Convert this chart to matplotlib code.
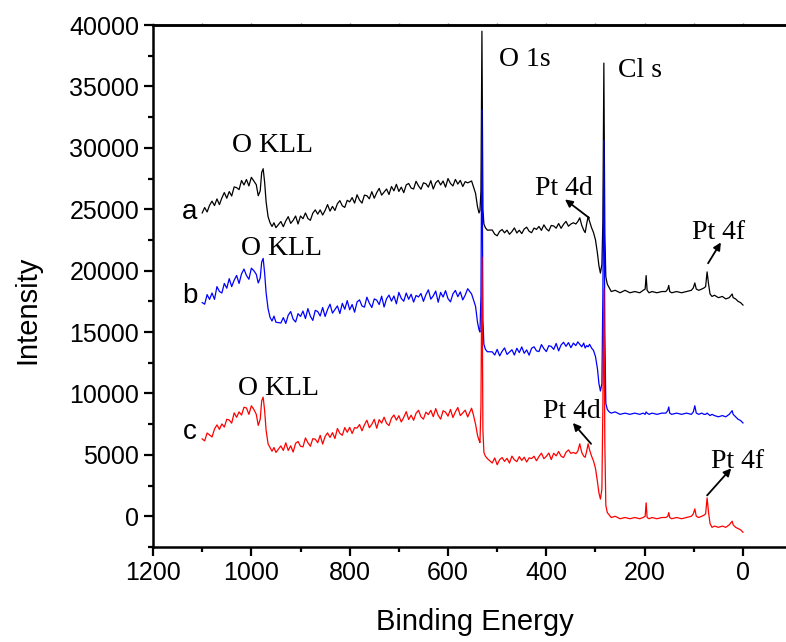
import matplotlib
matplotlib.use("Agg")
import matplotlib.pyplot as plt
from matplotlib.ticker import MultipleLocator

# --- XPS survey spectra: binding energy (eV) and counts for samples a, b, c ---

energy = [
    # 1100 - 1010
    1100, 1095, 1090, 1085, 1080, 1075, 1070, 1065, 1060, 1055,
    1050, 1045, 1040, 1035, 1030, 1025, 1020, 1015, 1010,
    # O KLL
    1005, 1000, 995, 990, 986, 982, 979, 976, 973, 970, 966, 962, 958, 954, 950,
    # 940 - 560
    940, 935, 930, 925, 920, 915, 910, 905, 900, 895,
    890, 885, 880, 875, 870, 865, 860, 855, 850, 845,
    840, 835, 830, 825, 820, 815, 810, 805, 800, 795,
    790, 785, 780, 775, 770, 765, 760, 755, 750, 745,
    740, 735, 730, 725, 720, 715, 710, 705, 700, 695,
    690, 685, 680, 675, 670, 665, 660, 655, 650, 645,
    640, 635, 630, 625, 620, 615, 610, 605, 600, 595,
    590, 585, 580, 575, 570, 565, 560,
    # O 1s
    552, 548, 544, 540, 537, 535, 533, 531, 529, 527, 524, 520,
    # 510 - 350
    510, 505, 500, 495, 490, 485, 480, 475, 470, 465,
    460, 455, 450, 445, 440, 435, 430, 425, 420, 415,
    410, 405, 400, 395, 390, 385, 380, 375, 370, 365,
    360, 355, 350,
    # Pt 4d, Cl s
    345, 340, 336, 332, 328, 324, 321, 318, 315, 312, 308, 304, 300, 296, 293, 290,
    287, 285, 283, 281, 279, 276, 272,
    # 268 - 0, Pt 4f
    268, 260, 250, 240, 230, 220, 210, 203, 199, 197, 195, 191, 185,
    175, 165, 157, 153, 151, 149, 145, 135, 125, 115, 105, 101, 98, 95, 90,
    84, 79, 76, 73, 70, 67, 63, 58, 50, 42, 35, 28, 24, 22, 20, 15, 10, 5, 0,
]

counts_a = [
    24700, 25140, 24780, 25320, 25660, 25300, 25840, 25380, 25920, 26360,
    25900, 26440, 26080, 26820, 26760, 26600, 27340, 26980, 27420,
    26900, 27600, 27300, 27000, 26100, 26500, 28000, 28300, 27200, 25600, 24400, 23900, 23600, 23900, 23500,
    24000, 23580, 24050, 24400, 23850, 24100, 24450, 23800, 24450, 24230,
    24700, 24250, 24100, 24680, 24950, 24600, 24950, 24530, 24900, 25380,
    24850, 25230, 24900, 25450, 25700, 25280, 25150, 25730, 25600, 25950,
    25500, 26180, 25750, 25500, 26150, 26100, 25850, 26430, 25900, 26350,
    26700, 26150, 26400, 26650, 26200, 26850, 26500, 27030, 26450, 26800,
    26350, 26980, 27100, 26730, 26650, 27280, 26900, 26630, 27150, 27080,
    26800, 27330, 26650, 27150, 27350, 26980, 27300, 26800, 27500, 27100,
    26900, 27430, 27050, 27350, 26850, 27250, 27150,
    27300, 26800, 26300, 25200, 24700, 24900, 26500, 39500, 25000, 23800, 23500, 23300,
    23310, 22970, 22840, 23200, 23350, 23080, 23300, 22960, 23180, 23480,
    23070, 23290, 23020, 23390, 23540, 23210, 23090, 23470, 23360, 23600,
    23280, 23730, 23410, 23230, 23680, 23640, 23460, 23840, 23450, 23770,
    24010, 23620, 23800,
    23900, 23800, 24000, 24300, 23700, 23300, 23100, 23800, 24400, 24000, 23500, 23100, 22500, 21400, 20400, 19800,
    20500, 24000, 36900, 23000, 19500, 18900, 18600,
    18300, 18400, 18200, 18400, 18200, 18300, 18200, 18400, 18500, 19600, 18400, 18200, 18300,
    18200, 18300, 18300, 18500, 18800, 18300, 18200, 18300, 18200, 18300, 18400, 18600, 19000, 18500, 18400,
    18500, 18600, 18700, 19900, 18900, 18100, 17900, 18000, 17800, 17900, 17700, 17800, 18000, 18100, 17800, 17700, 17500, 17400, 17200,
]

counts_b = [
    17400, 17270, 18050, 17660, 18180, 17660, 18700, 18310, 18180, 18960,
    18570, 19350, 18700, 19220, 19610, 18960, 19740, 20130, 19610,
    19300, 20200, 20000, 19700, 19000, 19400, 20700, 21000, 19800, 18200, 16900, 16200, 15900, 16300, 15800,
    15740, 16180, 15700, 16380, 16670, 16050, 15820, 16500, 16270, 16710,
    16100, 16910, 16290, 15950, 16770, 16670, 16310, 17000, 16270, 16840,
    17270, 16540, 16840, 17130, 16510, 17340, 16860, 17560, 16820, 17240,
    16620, 17450, 17620, 17130, 17030, 17840, 17350, 17000, 17700, 17600,
    17240, 17920, 17040, 17720, 18010, 17520, 17940, 17300, 18230, 17740,
    17510, 18180, 17670, 18080, 17440, 17980, 17860, 18140, 17500, 18040,
    18440, 17680, 17950, 18340, 17430, 18230, 17850, 18370, 17720, 17460,
    18110, 18390, 17880, 18270, 17620, 18010, 18530,
    18100, 17600, 17100, 15800, 15200, 15000, 18000, 33100, 16000, 14000, 13600, 13400,
    13390, 13130, 13590, 13060, 13430, 13710, 13180, 13370, 13560, 13130,
    13680, 13330, 13790, 13270, 13550, 13120, 13680, 13800, 13470, 13410,
    13980, 13650, 13410, 13890, 13830, 13590, 14070, 13470, 13950, 14170,
    13840, 14140, 13730,
    14100, 13900, 14200, 14000, 13800, 14100, 13700, 13900, 13800, 14000, 13700, 13500, 13000, 12000, 10800, 10200,
    10800, 18000, 30600, 15000, 9200, 8700, 8500,
    8400, 8500, 8300, 8400, 8300, 8400, 8300, 8400, 8300, 8500, 8400, 8300, 8400,
    8300, 8400, 8400, 8600, 8900, 8400, 8300, 8400, 8300, 8400, 8300, 8500, 9000, 8400, 8300,
    8400, 8300, 8300, 8400, 8300, 8200, 8300, 8200, 8100, 8200, 8100, 8300, 8500, 8600, 8300, 8100, 7900, 7800, 7600,
]

counts_c = [
    6300, 6140, 6780, 6620, 6460, 7100, 7440, 7080, 7520, 7260,
    7900, 7840, 7580, 8420, 8060, 8500, 8240, 8880, 8820,
    8300, 9000, 8700, 8300, 7400, 7900, 9400, 9700, 8600, 7000, 5900, 5600, 5300, 5600, 5200,
    5730, 5360, 5980, 5360, 5740, 5230, 5940, 6090, 5700, 5650,
    6380, 5990, 5700, 6320, 6280, 5990, 6590, 5880, 6500, 6790,
    6420, 6810, 6330, 7150, 6750, 6600, 7220, 6840, 7240, 6740,
    7220, 7180, 7470, 6960, 7450, 7820, 7210, 7490, 7890, 7170,
    7870, 7590, 8070, 7570, 7390, 7990, 8250, 7830, 8190, 7680,
    8060, 8520, 7880, 8230, 7820, 8390, 8630, 8100, 7910, 8480,
    8280, 8630, 8110, 8770, 8220, 7910, 8590, 8480, 8150, 8700,
    8040, 8500, 8860, 8200, 8420, 8640, 8090,
    8800, 8200, 7500, 6600, 6200, 6000, 9000, 21100, 7000, 5200, 4900, 4700,
    4340, 4750, 4200, 4610, 4780, 4470, 4720, 4330, 4900, 4600,
    4450, 4860, 4550, 4810, 4420, 4760, 4700, 4890, 4520, 4870,
    5140, 4690, 4880, 5150, 4620, 5130, 4920, 5270, 4900, 4780,
    5210, 5400, 5120,
    5200, 5100, 5300, 5900, 5200, 4900, 4800, 5300, 5900, 5400, 4900, 4500, 3900, 2800, 1900, 1400,
    2200, 9000, 18500, 6000, 900, 300, 100,
    -100, 0, -200, -100, -200, -100, -200, -100, 0, 1100, -100, -200, -100,
    -200, -100, -100, 0, 300, -100, -200, -100, -200, -100, 0, 200, 600, 0, -100,
    0, 100, 200, 1500, 300, -600, -900, -800, -900, -800, -900, -700, -500, -400, -700, -900, -1000, -1100, -1300,
]

SANS = "Liberation Sans"
SERIF = "Liberation Serif"

fig = plt.figure(figsize=(7.86, 6.42), dpi=100)
ax = fig.add_axes([0.1947, 0.148, 0.8053, 0.813])

ax.plot(energy, counts_a, color="black", linewidth=0.9)
ax.plot(energy, counts_b, color="blue", linewidth=0.9)
ax.plot(energy, counts_c, color="red", linewidth=0.9)

ax.set_xlim(1200, -87.5)
ax.set_ylim(-2500, 40000)

ax.xaxis.set_major_locator(MultipleLocator(200))
ax.xaxis.set_minor_locator(MultipleLocator(100))
ax.yaxis.set_major_locator(MultipleLocator(5000))
ax.yaxis.set_minor_locator(MultipleLocator(2500))

for side in ("left", "bottom", "top"):
    ax.spines[side].set_linewidth(1.8)
ax.spines["right"].set_visible(False)

ax.tick_params(which="major", direction="out", length=6.5, width=1.6, labelsize=18)
ax.tick_params(which="minor", direction="out", length=3.5, width=1.6)
for lab in ax.get_xticklabels() + ax.get_yticklabels():
    lab.set_family(SANS)

# small tick marks along the top frame
top = ax.secondary_xaxis("top")
top.xaxis.set_major_locator(MultipleLocator(100))
top.tick_params(length=1.8, width=1.0, color="0.45", labeltop=False)
top.spines["top"].set_linewidth(1.8)

ax.set_xlabel("Binding Energy", fontsize=21, family=SANS)
ax.set_ylabel("Intensity", fontsize=21, family=SANS)
ax.xaxis.set_label_coords(0.509, -0.117)
ax.yaxis.set_label_coords(-0.176, 0.454)

# curve labels
ax.text(1125, 24800, "a", fontsize=20, family=SANS, ha="center", va="center")
ax.text(1125, 17900, "b", fontsize=20, family=SANS, ha="center", va="center")
ax.text(1125, 6900, "c", fontsize=20, family=SANS, ha="center", va="center")

# peak labels
peak_kw = dict(fontsize=20, family=SERIF, ha="center", va="center")
ax.text(956, 30200, "O KLL", **peak_kw)
ax.text(938, 21800, "O KLL", **peak_kw)
ax.text(944, 10400, "O KLL", **peak_kw)
ax.text(443, 37200, "O 1s", **peak_kw)
ax.text(210, 36300, "Cl s", **peak_kw)

arrow = dict(arrowstyle="-|>", color="black", lw=1.3, mutation_scale=11,
             shrinkA=0, shrinkB=0)
ax.annotate("", xy=(362, 25800), xytext=(313, 24300), arrowprops=arrow)
ax.text(364, 26700, "Pt 4d", **peak_kw)
ax.annotate("", xy=(45, 22300), xytext=(71, 20600), arrowprops=arrow)
ax.text(49, 23100, "Pt 4f", **peak_kw)
ax.annotate("", xy=(346, 7600), xytext=(309, 5900), arrowprops=arrow)
ax.text(348, 8500, "Pt 4d", **peak_kw)
ax.annotate("", xy=(24, 3900), xytext=(73, 1700), arrowprops=arrow)
ax.text(12, 4500, "Pt 4f", **peak_kw)

fig.savefig("out.png", dpi=100)
